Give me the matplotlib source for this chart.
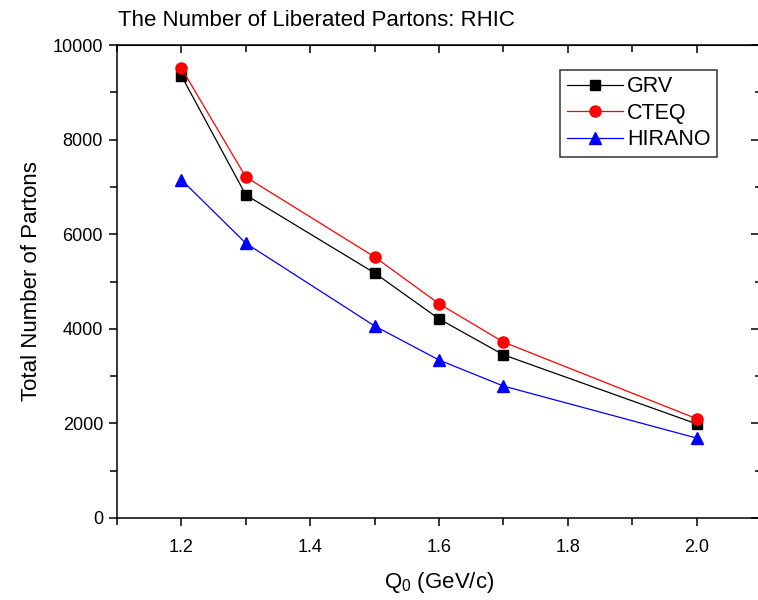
import numpy as np
import matplotlib.pyplot as plt
from matplotlib.ticker import MultipleLocator

plt.rcParams['font.family'] = ['Liberation Sans', 'DejaVu Sans']

# Q0 values (GeV/c)
q0 = [1.2, 1.3, 1.5, 1.6, 1.7, 2.0]

# total number of liberated partons
grv = [9350, 6830, 5180, 4210, 3450, 1990]
cteq = [9510, 7210, 5520, 4530, 3720, 2100]
hirano = [7150, 5810, 4060, 3340, 2790, 1690]

fig = plt.figure(figsize=(7.58, 6.0), dpi=100)
ax = fig.add_axes([117/758, 1 - 518/600, 644/758, 473/600])

ax.plot(q0, grv, color='black', marker='s', ms=7.5, lw=0.9, label='GRV')
ax.plot(q0, cteq, color='red', marker='o', ms=8, lw=0.9, label='CTEQ')
ax.plot(q0, hirano, color='blue', marker='^', ms=8.5, lw=0.9, label='HIRANO')

ax.set_xlim(1.1, 2.1)
ax.set_ylim(0, 10000)
ax.xaxis.set_major_locator(MultipleLocator(0.2))
ax.xaxis.set_minor_locator(MultipleLocator(0.1))
ax.yaxis.set_major_locator(MultipleLocator(2000))
ax.yaxis.set_minor_locator(MultipleLocator(1000))
ax.set_xticks([1.2, 1.4, 1.6, 1.8, 2.0])
ax.set_xticklabels(['1.2', '1.4', '1.6', '1.8', '2.0'])

for s in ax.spines.values():
    s.set_linewidth(1.1)
ax.tick_params(which='both', direction='out', width=1.1, labelsize=13, top=False, right=False)
ax.tick_params(which='major', length=6)
ax.tick_params(which='minor', length=5)
ax.tick_params(axis='y', pad=4)
ax.tick_params(axis='x', pad=9)

# inward ticks on the top and right edges
ax2 = ax.secondary_xaxis('top')
ax2.xaxis.set_major_locator(MultipleLocator(0.2))
ax2.xaxis.set_minor_locator(MultipleLocator(0.1))
ax2.tick_params(which='both', direction='in', width=1.1, labeltop=False)
ax2.tick_params(which='major', length=6)
ax2.tick_params(which='minor', length=5)
ax3 = ax.secondary_yaxis('right')
ax3.yaxis.set_major_locator(MultipleLocator(2000))
ax3.yaxis.set_minor_locator(MultipleLocator(1000))
ax3.tick_params(which='both', direction='in', width=1.1, labelright=False)
ax3.tick_params(which='major', length=7)
ax3.tick_params(which='minor', length=4)

ax.set_xlabel('Q$_\\mathregular{0}$ (GeV/c)', fontsize=16, labelpad=10)
ax.set_ylabel('Total Number of Partons', fontsize=16, labelpad=8)
fig.text(118/758, 1 - 21/600, 'The Number of Liberated Partons: RHIC', fontsize=16,
         va='center', ha='left')

leg = ax.legend(loc='upper right', bbox_to_anchor=((717 - 117)/644, (518 - 70)/473),
                fontsize=15.5, frameon=True, fancybox=False, edgecolor='black',
                borderpad=0.3, labelspacing=0.25, handlelength=2.6, handletextpad=0.2,
                borderaxespad=0)
leg.get_frame().set_linewidth(1.1)

fig.savefig('out.png', dpi=100)
